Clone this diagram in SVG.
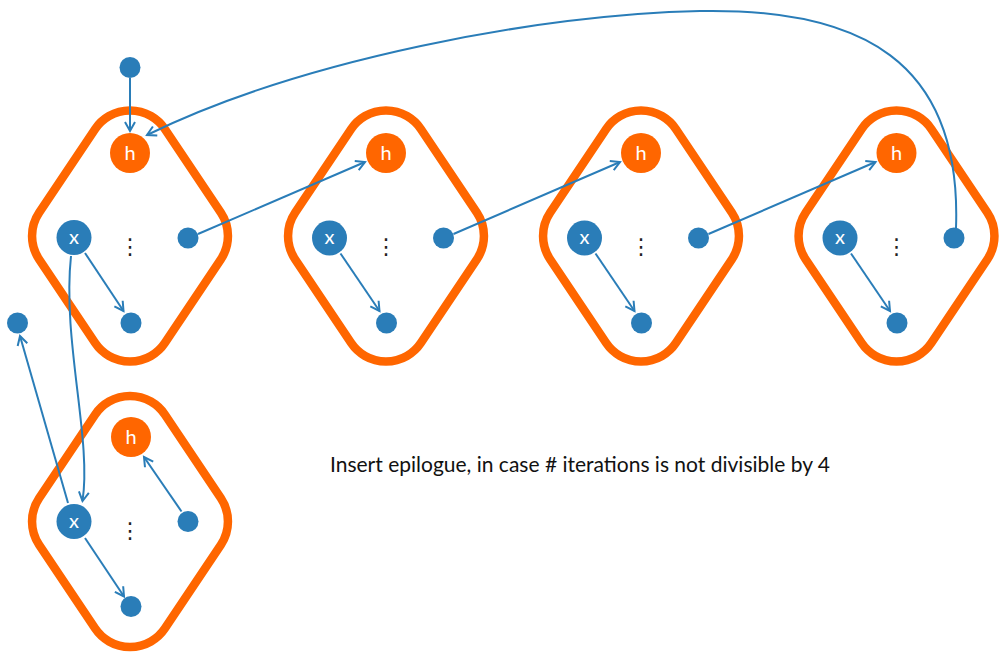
<svg xmlns="http://www.w3.org/2000/svg" width="1000" height="655" viewBox="0 0 1000 655">
  <style>
    .frame { fill: none; stroke: #FF6600; stroke-width: 8.5; }
    .hnode { fill: #FF6600; }
    .bnode { fill: #2A7DB8; }
    .lbl { fill: #FFFFFF; font-family: Lato, "Open Sans", sans-serif; font-size: 20px; text-anchor: middle; }
    .dots { fill: #222222; font-family: "DejaVu Sans", sans-serif; font-size: 22px; text-anchor: middle; }
    .edge { fill: none; stroke: #2A7DB8; stroke-width: 2; marker-end: url(#arrow); }
    .caption { fill: #111111; font-family: Lato, "Open Sans", sans-serif; font-size: 21px; }
  </style>
  <defs>
    <marker id="arrow" markerUnits="userSpaceOnUse" markerWidth="14" markerHeight="14" viewBox="-11 -7 13 14" refX="0" refY="0" orient="auto">
      <path d="M-9,-5 L0,0 L-9,5" fill="none" stroke="#2A7DB8" stroke-width="2"/>
    </marker>
    <!-- rhombus with rounded corners, centred on 0,0 -->
    <path id="rhomb" d="M-34.9,-106.9 A42,42 0 0 1 34.9,-106.9 L90.86,-23.35 A42,42 0 0 1 90.86,23.35 L34.9,106.9 A42,42 0 0 1 -34.9,106.9 L-90.86,23.35 A42,42 0 0 1 -90.86,-23.35 Z"/>
  </defs>

  <!-- loop bodies -->
  <g id="body1">
    <use href="#rhomb" class="frame" transform="translate(130,236)"/>
    <circle class="hnode" cx="130" cy="153" r="20"/>
    <text class="lbl" x="130" y="160">h</text>
    <circle class="bnode" cx="74" cy="237.5" r="17.5"/>
    <text class="lbl" x="74" y="243.5">x</text>
    <text class="dots" x="130" y="254">⋮</text>
    <circle class="bnode" cx="188" cy="238" r="10.5"/>
    <circle class="bnode" cx="131" cy="323" r="10.5"/>
  </g>
  <g id="body2">
    <use href="#rhomb" class="frame" transform="translate(386,236)"/>
    <circle class="hnode" cx="386" cy="153" r="20"/>
    <text class="lbl" x="386" y="160">h</text>
    <circle class="bnode" cx="329.5" cy="238" r="17.5"/>
    <text class="lbl" x="329.5" y="244">x</text>
    <text class="dots" x="386" y="254">⋮</text>
    <circle class="bnode" cx="443.5" cy="238" r="10.5"/>
    <circle class="bnode" cx="386.5" cy="323" r="10.5"/>
  </g>
  <g id="body3">
    <use href="#rhomb" class="frame" transform="translate(641,236)"/>
    <circle class="hnode" cx="641" cy="153" r="20"/>
    <text class="lbl" x="641" y="160">h</text>
    <circle class="bnode" cx="584.5" cy="238" r="17.5"/>
    <text class="lbl" x="584.5" y="244">x</text>
    <text class="dots" x="641" y="254">⋮</text>
    <circle class="bnode" cx="698.5" cy="238" r="10.5"/>
    <circle class="bnode" cx="641.5" cy="323" r="10.5"/>
  </g>
  <g id="body4">
    <use href="#rhomb" class="frame" transform="translate(896.5,236)"/>
    <circle class="hnode" cx="896.5" cy="153" r="20"/>
    <text class="lbl" x="896.5" y="160">h</text>
    <circle class="bnode" cx="840" cy="238" r="17.5"/>
    <text class="lbl" x="840" y="244">x</text>
    <text class="dots" x="896.5" y="254">⋮</text>
    <circle class="bnode" cx="954" cy="238" r="10.5"/>
    <circle class="bnode" cx="897" cy="323" r="10.5"/>
  </g>
  <!-- epilogue body -->
  <g id="epilogue">
    <use href="#rhomb" class="frame" transform="translate(130,521.5)"/>
    <circle class="hnode" cx="131" cy="437" r="20"/>
    <text class="lbl" x="131" y="444">h</text>
    <circle class="bnode" cx="74" cy="521.5" r="17.5"/>
    <text class="lbl" x="74" y="527.5">x</text>
    <text class="dots" x="130" y="538">⋮</text>
    <circle class="bnode" cx="188" cy="521.5" r="10.5"/>
    <circle class="bnode" cx="131" cy="606.5" r="10.5"/>
  </g>

  <!-- free nodes -->
  <g id="entry">
    <circle class="bnode" cx="130" cy="67.5" r="10.5"/>
  </g>
  <g id="exit">
    <circle class="bnode" cx="17.5" cy="323" r="10.5"/>
  </g>

  <!-- connectors -->
  <g id="edges">
    <path class="edge" d="M130,78 L130,131"/>
    <path class="edge" d="M85,253 L123.5,311"/>
    <path class="edge" d="M340.5,253.5 L379.5,311"/>
    <path class="edge" d="M595.5,253.5 L634.5,311"/>
    <path class="edge" d="M851,253.5 L890,311"/>
    <path class="edge" d="M198,234 L365,162"/>
    <path class="edge" d="M453.5,234 L620,162"/>
    <path class="edge" d="M708.5,234 L875.5,162"/>
    <path class="edge" d="M956,228 C962,60 860,8 700,11 C540,14 300,60 147,135"/>
    <path class="edge" d="M71,256 C62,340 92,440 82.5,501"/>
    <path class="edge" d="M68,503 L20,336"/>
    <path class="edge" d="M181.5,511.5 L144,457"/>
    <path class="edge" d="M85,538 L124,596.5"/>
  </g>

  <text class="caption" x="330" y="472">Insert epilogue, in case # iterations is not divisible by 4</text>
</svg>
